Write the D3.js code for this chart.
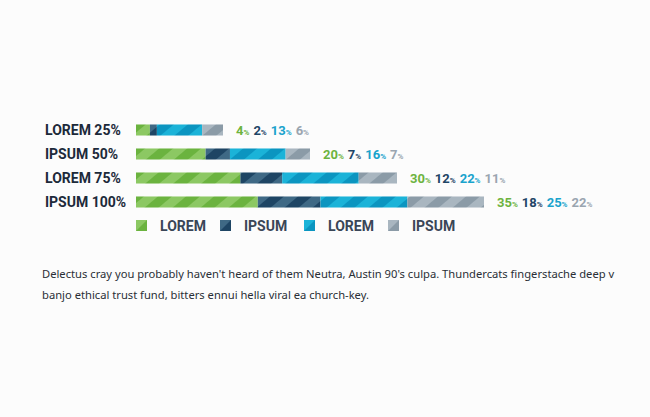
<!DOCTYPE html>
<html>
<head>
<meta charset="UTF-8">
<script src="https://d3js.org/d3.v7.min.js"></script>
<style>
  body { margin: 0; background: #fcfcfc; }
  svg { display: block; }
  .note { position: absolute; left: 42px; top: 263px; width: 600px;
          font-family: "Noto Sans", "Open Sans", sans-serif; font-size: 11.2px;
          line-height: 21px; color: #2a2f36; margin: 0; }
</style>
</head>
<body>
<svg id="chart"></svg>
<p class="note">Delectus cray you probably haven't heard of them Neutra, Austin 90's culpa. Thundercats fingerstache deep v banjo ethical trust fund, bitters ennui hella viral ea church-key.</p>
<script>
const categories = ["LOREM 25%", "IPSUM 50%", "LOREM 75%", "IPSUM 100%"];
const seriesNames = ["LOREM", "IPSUM", "LOREM", "IPSUM"];
const values = [
  [4, 2, 13, 6],
  [20, 7, 16, 7],
  [30, 12, 22, 11],
  [35, 18, 25, 22]
];
const lightColors = ["#8cc863", "#3f6985", "#1bb3d8", "#a9b6c0"];
const darkColors  = ["#6bb33f", "#1e4564", "#0b95c0", "#8b9ba7"];
const labelColors = ["#6db33f", "#1f4566", "#1aa3cc", "#9aa5b0"];

const width = 650, height = 417;
const svg = d3.select("#chart").attr("width", width).attr("height", height);

const x = d3.scaleLinear().domain([0, 100]).range([136, 484]);
const y = d3.scaleBand().domain(categories).range([118, 214]).paddingInner(0.54).paddingOuter(0.27);

// striped patterns
const defs = svg.append("defs");
seriesNames.forEach((s, i) => {
  const p = defs.append("pattern")
    .attr("id", "stripe" + i)
    .attr("patternUnits", "userSpaceOnUse")
    .attr("width", 18).attr("height", 18)
    .attr("patternTransform", "rotate(50)");
  p.append("rect").attr("width", 18).attr("height", 18).attr("fill", lightColors[i]);
  p.append("rect").attr("width", 9).attr("height", 18).attr("fill", darkColors[i]);
});

// row labels
svg.selectAll(".rowlabel")
  .data(categories)
  .enter()
  .append("text")
  .attr("x", 45)
  .attr("y", d => y(d) + y.bandwidth() / 2 + 5)
  .attr("font-family", "Roboto, sans-serif")
  .attr("font-weight", "bold")
  .attr("font-size", 14)
  .attr("fill", "#1c2a3a")
  .text(d => d);

// stacked bars
const rows = svg.selectAll(".row")
  .data(categories)
  .enter()
  .append("g")
  .attr("class", "row");

rows.each(function(cat, r) {
  const g = d3.select(this);
  let acc = 0;
  const segs = values[r].map((v, i) => {
    const s = {i: i, x0: acc, x1: acc + v};
    acc += v;
    return s;
  });
  g.selectAll("rect")
    .data(segs)
    .enter()
    .append("rect")
    .attr("x", d => x(d.x0))
    .attr("y", y(cat))
    .attr("width", d => x(d.x1) - x(d.x0))
    .attr("height", y.bandwidth())
    .attr("fill", d => "url(#stripe" + d.i + ")");

  // value labels
  const t = g.append("text")
    .attr("x", x(acc) + 13)
    .attr("y", y(cat) + y.bandwidth() / 2 + 5)
    .attr("font-family", "Roboto, sans-serif")
    .attr("font-weight", "bold");
  values[r].forEach((v, i) => {
    t.append("tspan")
      .attr("dx", i === 0 ? 0 : 4)
      .attr("font-size", 13)
      .attr("fill", labelColors[i])
      .text(v);
    t.append("tspan")
      .attr("font-size", 8)
      .attr("fill", labelColors[i])
      .text("%");
  });
});

// legend
const legend = svg.selectAll(".legend")
  .data(seriesNames)
  .enter()
  .append("g")
  .attr("transform", (d, i) => `translate(${136 + i * 84}, 220)`);

legend.append("rect")
  .attr("width", 11).attr("height", 11)
  .attr("fill", (d, i) => darkColors[i]);
legend.append("path")
  .attr("d", "M0,0H11L0,11Z")
  .attr("fill", (d, i) => lightColors[i]);
legend.append("text")
  .attr("x", 24).attr("y", 10.5)
  .attr("font-family", "Roboto, sans-serif")
  .attr("font-weight", "bold")
  .attr("font-size", 14)
  .attr("fill", "#3a4657")
  .text(d => d);
</script>
</body>
</html>
